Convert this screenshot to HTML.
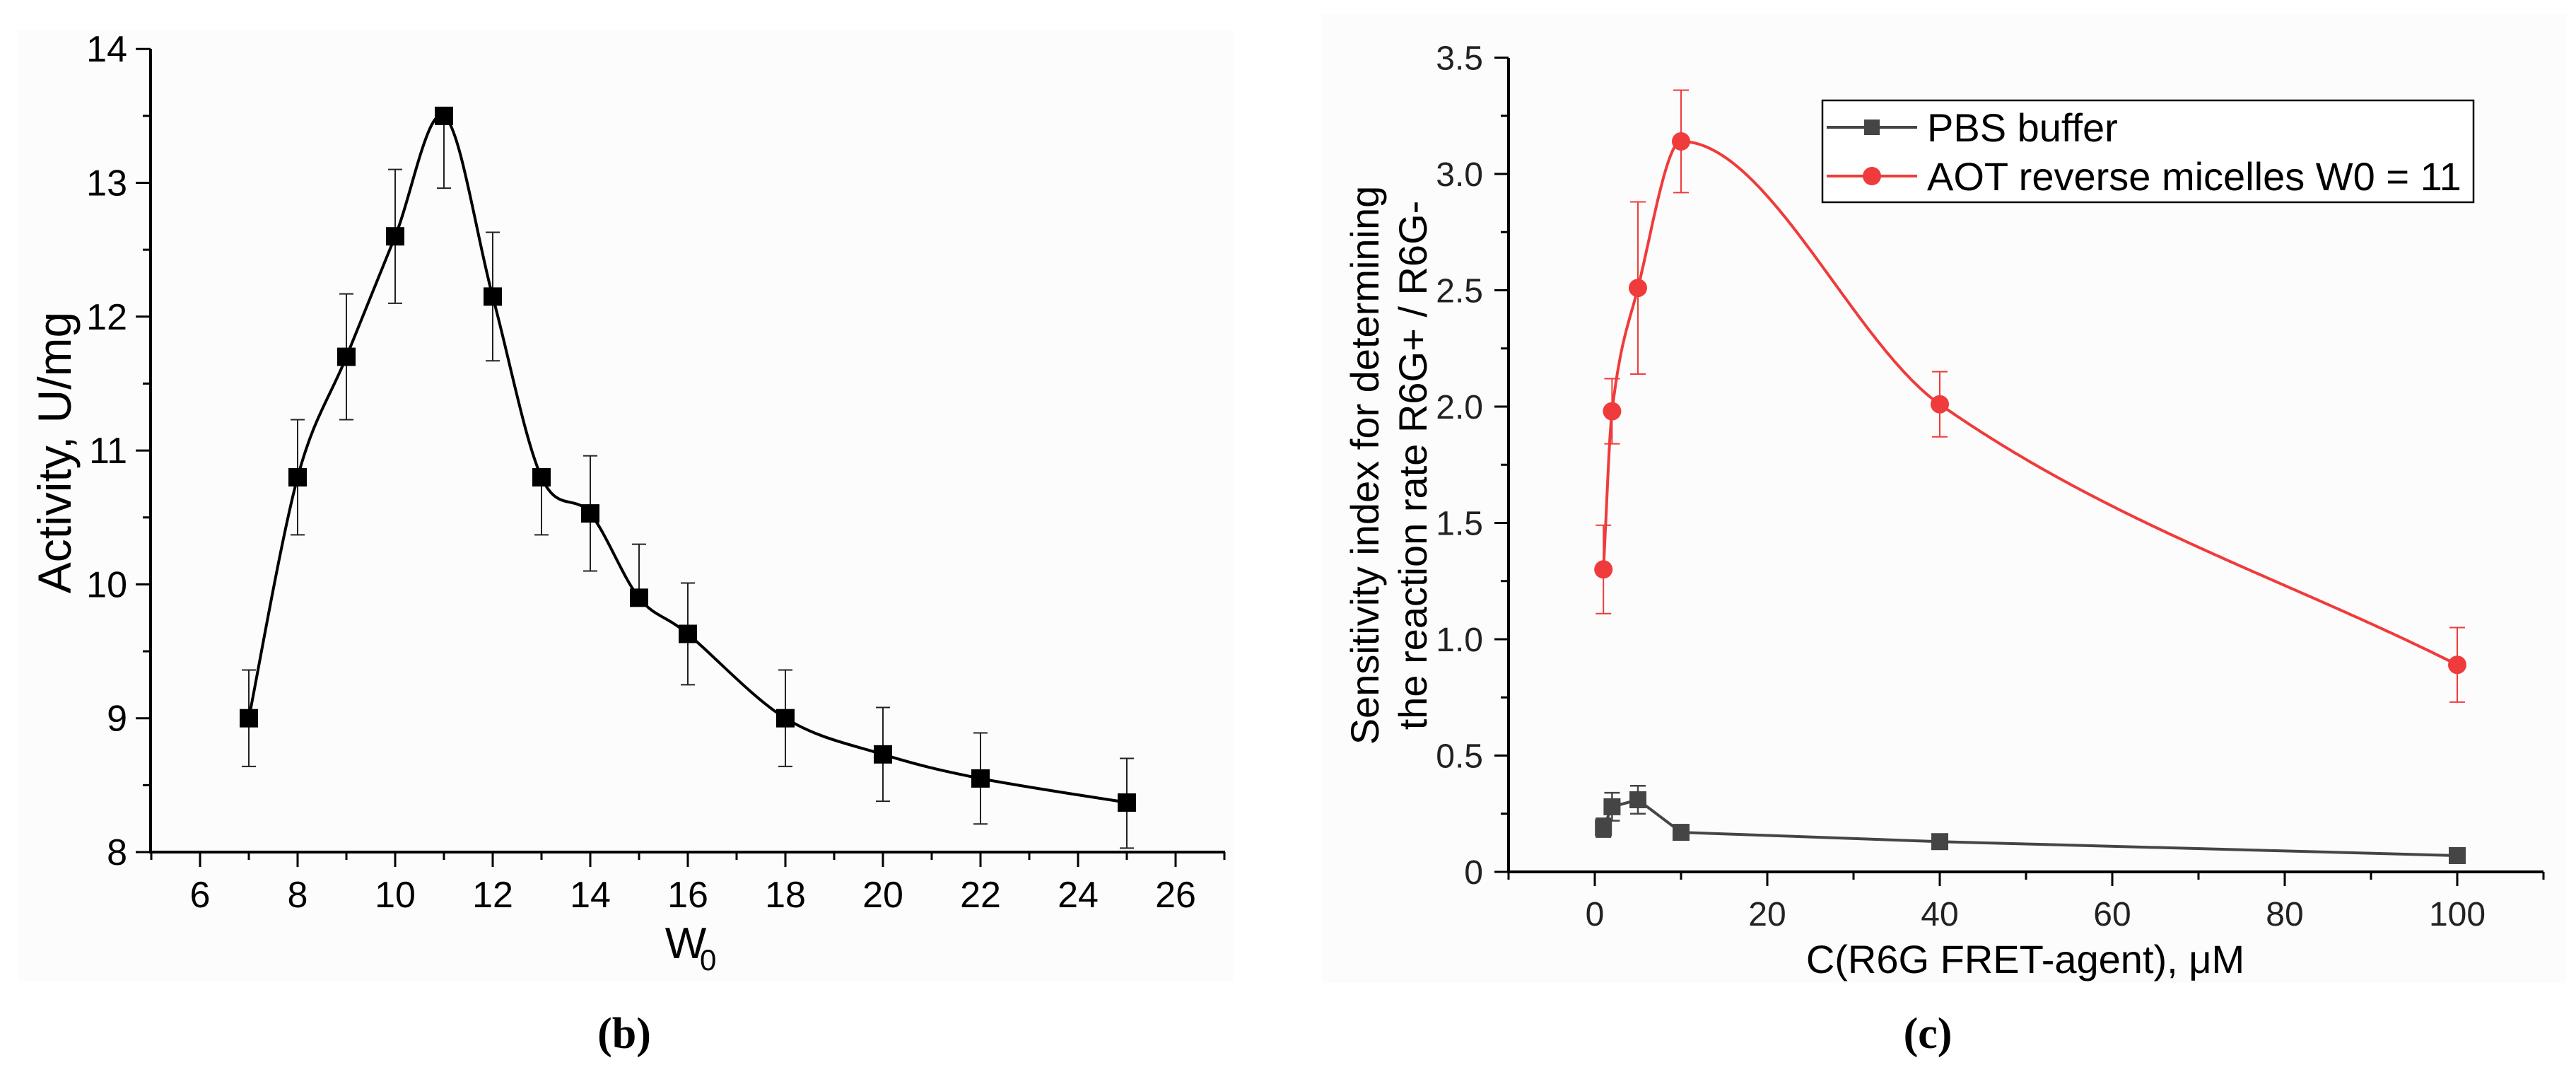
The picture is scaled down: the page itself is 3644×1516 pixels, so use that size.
<!DOCTYPE html>
<html><head><meta charset="utf-8">
<style>
html,body{margin:0;padding:0;background:#fff;}
svg{display:block;font-family:"Liberation Sans",Arial,sans-serif;}
</style></head>
<body>
<svg id="fig" width="3644" height="1516" viewBox="0 0 3644 1516" xmlns="http://www.w3.org/2000/svg">
<rect x="25" y="42" width="1720" height="1345" fill="#fdfcfc"/>
<rect x="1870" y="20" width="1760" height="1370" fill="#fdfcfc"/>
<g id="pb"></g>
<g id="pc"></g>
<text x="883" y="1482" text-anchor="middle" font-family="Liberation Serif,serif" font-weight="bold" font-size="62">(b)</text>
<text x="2727" y="1482" text-anchor="middle" font-family="Liberation Serif,serif" font-weight="bold" font-size="62">(c)</text>
</svg>
<script>
// ---- Panel (b) data ----
const bW0 = [7,8,9,10,11,12,13,14,15,16,18,20,22,25];
const bActivity = [9.0,10.8,11.7,12.6,13.5,12.15,10.8,10.53,9.9,9.63,9.0,8.73,8.55,8.37];
const bErrLow = [8.64,10.37,11.23,12.1,12.96,11.67,10.37,10.1,9.9,9.25,8.64,8.38,8.21,8.03];
const bErrHigh = [9.36,11.23,12.17,13.1,13.5,12.63,10.8,10.96,10.3,10.01,9.36,9.08,8.89,8.7];
const bXTicks = [6,8,10,12,14,16,18,20,22,24,26];
const bYTicks = [8,9,10,11,12,13,14];
// ---- Panel (c) data ----
const cConc = [1,2,5,10,40,100];
const cPBS = [0.19,0.28,0.31,0.17,0.13,0.07];
const cPBSErr = [0.04,0.06,0.06,0.02,0.02,0.01];
const cAOT = [1.3,1.98,2.51,3.14,2.01,0.89];
const cAOTErr = [0.19,0.14,0.37,0.22,0.14,0.16];
const cXTicks = [0,20,40,60,80,100];
const cYTicks = [0,0.5,1.0,1.5,2.0,2.5,3.0,3.5];
const cYTickLabels = ["0","0.5","1.0","1.5","2.0","2.5","3.0","3.5"];

const NS="http://www.w3.org/2000/svg";
function mk(parent, tag, attrs, text){
  const e=document.createElementNS(NS,tag);
  for(const k in attrs) e.setAttribute(k,attrs[k]);
  if(text!==undefined) e.textContent=text;
  parent.appendChild(e); return e;
}
function smooth(pts,k){
  k=k||6;
  let d="M"+pts[0][0]+","+pts[0][1];
  for(let i=0;i<pts.length-1;i++){
    const p0=pts[i-1]||pts[i], p1=pts[i], p2=pts[i+1], p3=pts[i+2]||p2;
    const c1=[p1[0]+(p2[0]-p0[0])/k, p1[1]+(p2[1]-p0[1])/k];
    const c2=[p2[0]-(p3[0]-p1[0])/k, p2[1]-(p3[1]-p1[1])/k];
    d+=" C"+c1[0]+","+c1[1]+" "+c2[0]+","+c2[1]+" "+p2[0]+","+p2[1];
  }
  return d;
}
// PCHIP monotone cubic y(x) sampled -> path
function pchipPath(xs,ys,X,Y){
  const n=xs.length,h=[],dl=[],m=[];
  for(let i=0;i<n-1;i++){h.push(xs[i+1]-xs[i]);dl.push((ys[i+1]-ys[i])/h[i]);}
  m[0]=dl[0]; m[n-1]=dl[n-2];
  for(let i=1;i<n-1;i++){
    if(dl[i-1]*dl[i]<=0){m[i]=0;continue;}
    const w1=2*h[i]+h[i-1], w2=h[i]+2*h[i-1];
    m[i]=(w1+w2)/(w1/dl[i-1]+w2/dl[i]);
  }
  let p="";
  for(let j=0;j<n-1;j++){
    const steps=Math.max(20,Math.round(h[j]*3));
    for(let s=(j===0?0:1);s<=steps;s++){
      const t=s/steps, t2=t*t, t3=t2*t;
      const yv=(2*t3-3*t2+1)*ys[j]+(t3-2*t2+t)*h[j]*m[j]+(-2*t3+3*t2)*ys[j+1]+(t3-t2)*h[j]*m[j+1];
      p+=(p?" L":"M")+X(xs[j]+t*h[j]).toFixed(1)+","+Y(yv).toFixed(1);
    }
  }
  return p;
}

// ===== Panel b =====
(function(){
  const g=document.getElementById('pb');
  const X=v=>283+(v-6)*69;
  const Y=v=>1205-(v-8)*189.3;
  const x0=213, x1=1733, yb=1205, yt=69;
  let e;
  for(let v=8;v<=14.001;v+=0.5){
    const major=Math.abs(v-Math.round(v))<1e-6;
    e=mk(g,'line',{x1:x0-(major?21:11),x2:x0,y1:Y(v),y2:Y(v),stroke:'#000','stroke-width':3});
    
    
  }
  bYTicks.forEach(v=>{
    e=mk(g,'text',{x:180,y:Y(v)+18,'text-anchor':'end','font-size':52,fill:'#000'},String(v));
    
    
  });
  for(let v=5;v<=27;v+=1){
    const major=v%2===0;
    e=mk(g,'line',{x1:X(v),x2:X(v),y1:yb,y2:yb+(major?21:11),stroke:'#000','stroke-width':3});
    
    
  }
  bXTicks.forEach(v=>{
    e=mk(g,'text',{x:X(v),y:1283,'text-anchor':'middle','font-size':52,fill:'#000'},String(v));
    
    
  });
  e=mk(g,'line',{x1:x0,x2:x0,y1:yt,y2:yb+2,stroke:'#000','stroke-width':4});
  
  
  e=mk(g,'line',{x1:x0-2,x2:x1,y1:yb,y2:yb,stroke:'#000','stroke-width':4});
  
  
  e=mk(g,'text',{x:0,y:0,transform:'translate(100,640) rotate(-90)','text-anchor':'middle','font-size':66,fill:'#000'},'Activity, U/mg');
  
  
  e=mk(g,'text',{x:970,y:1355,'text-anchor':'middle','font-size':62,fill:'#000'},'W');
  
  
  mk(g,'text',{x:990,y:1372,'font-size':42,fill:'#000'},'0');
  bW0.forEach((w,i)=>{
    const cx=X(w);
    e=mk(g,'line',{x1:cx,x2:cx,y1:Y(bErrHigh[i]),y2:Y(bErrLow[i]),stroke:'#222','stroke-width':2});
    
    
    [bErrHigh[i],bErrLow[i]].forEach(v=>{
      mk(g,'line',{x1:cx-10,x2:cx+10,y1:Y(v),y2:Y(v),stroke:'#222','stroke-width':2});
    });
  });
  e=mk(g,'path',{d:smooth(bW0.map((w,i)=>[X(w),Y(bActivity[i])])),fill:'none',stroke:'#000','stroke-width':4});
  
  
  bW0.forEach((w,i)=>{
    e=mk(g,'rect',{x:X(w)-13,y:Y(bActivity[i])-13,width:26,height:26,fill:'#000'});
    
    
  });
})();

// ===== Panel c =====
(function(){
  const g=document.getElementById('pc');
  const X=v=>2256+v*12.2;
  const Y=v=>1233-v*329;
  const x0=2134, x1=3598, yb=1233, yt=82;
  const red='#ef3b3b', grey='#454545';
  let e;
  for(let v=0;v<=3.501;v+=0.25){
    const major=Math.abs(v*2-Math.round(v*2))<1e-6;
    e=mk(g,'line',{x1:x0-(major?20:11),x2:x0,y1:Y(v),y2:Y(v),stroke:'#000','stroke-width':3});
    
    
  }
  cYTicks.forEach((v,i)=>{
    e=mk(g,'text',{x:2098,y:Y(v)+17,'text-anchor':'end','font-size':48,fill:'#222'},cYTickLabels[i]);
    
    
  });
  for(let v=-10;v<=110;v+=10){
    const major=v%20===0;
    e=mk(g,'line',{x1:X(v),x2:X(v),y1:yb,y2:yb+(major?20:11),stroke:'#000','stroke-width':3});
    
    
  }
  cXTicks.forEach(v=>{
    e=mk(g,'text',{x:X(v),y:1309,'text-anchor':'middle','font-size':48,fill:'#222'},String(v));
    
    
  });
  e=mk(g,'line',{x1:x0,x2:x0,y1:yt,y2:yb+2,stroke:'#000','stroke-width':4});
  
  
  e=mk(g,'line',{x1:x0-2,x2:x1,y1:yb,y2:yb,stroke:'#000','stroke-width':4});
  
  
  e=mk(g,'text',{x:0,y:0,transform:'translate(1950,658) rotate(-90)','text-anchor':'middle','font-size':56,fill:'#000'},'Sensitivity index for determining');
  
  
  e=mk(g,'text',{x:0,y:0,transform:'translate(2018,658) rotate(-90)','text-anchor':'middle','font-size':56,fill:'#000'},'the reaction rate R6G+ / R6G-');
  
  
  e=mk(g,'text',{x:2865,y:1376,'text-anchor':'middle','font-size':56,fill:'#000'},'C(R6G FRET-agent), μM');
  
  
  cConc.forEach((c,i)=>{
    const cx=X(c);
    e=mk(g,'line',{x1:cx,x2:cx,y1:Y(cPBS[i]+cPBSErr[i]),y2:Y(cPBS[i]-cPBSErr[i]),stroke:grey,'stroke-width':2.5});
    
    
    mk(g,'line',{x1:cx-11,x2:cx+11,y1:Y(cPBS[i]+cPBSErr[i]),y2:Y(cPBS[i]+cPBSErr[i]),stroke:grey,'stroke-width':2.5});
    mk(g,'line',{x1:cx-11,x2:cx+11,y1:Y(cPBS[i]-cPBSErr[i]),y2:Y(cPBS[i]-cPBSErr[i]),stroke:grey,'stroke-width':2.5});
  });
  e=mk(g,'polyline',{points:cConc.map((c,i)=>X(c)+','+Y(cPBS[i])).join(' '),fill:'none',stroke:grey,'stroke-width':4});
  
  
  cConc.forEach((c,i)=>{
    e=mk(g,'rect',{x:X(c)-12,y:Y(cPBS[i])-12,width:24,height:24,fill:grey});
    
    
  });
  cConc.forEach((c,i)=>{
    const cx=X(c);
    e=mk(g,'line',{x1:cx,x2:cx,y1:Y(cAOT[i]+cAOTErr[i]),y2:Y(cAOT[i]-cAOTErr[i]),stroke:red,'stroke-width':2});
    
    
    mk(g,'line',{x1:cx-11,x2:cx+11,y1:Y(cAOT[i]+cAOTErr[i]),y2:Y(cAOT[i]+cAOTErr[i]),stroke:red,'stroke-width':2});
    mk(g,'line',{x1:cx-11,x2:cx+11,y1:Y(cAOT[i]-cAOTErr[i]),y2:Y(cAOT[i]-cAOTErr[i]),stroke:red,'stroke-width':2});
  });
  e=mk(g,'path',{d:pchipPath(cConc,cAOT,X,Y),fill:'none',stroke:red,'stroke-width':4,'stroke-linejoin':'round'});
  
  
  cConc.forEach((c,i)=>{
    e=mk(g,'circle',{cx:X(c),cy:Y(cAOT[i]),r:13,fill:red});
    
    
  });
  const lg=mk(g,'g',{});
  
  
  mk(lg,'rect',{x:2578,y:142,width:921,height:144,fill:'#fff',stroke:'#000','stroke-width':2.5});
  mk(lg,'line',{x1:2584,x2:2712,y1:180,y2:180,stroke:grey,'stroke-width':4});
  mk(lg,'rect',{x:2637,y:169,width:22,height:22,fill:grey});
  e=mk(lg,'text',{x:2726,y:200,'font-size':56,fill:'#000'},'PBS buffer');
  
  
  mk(lg,'line',{x1:2584,x2:2712,y1:249,y2:249,stroke:red,'stroke-width':4});
  mk(lg,'circle',{cx:2648,cy:249,r:13,fill:red});
  e=mk(lg,'text',{x:2726,y:269,'font-size':56,fill:'#000'},'AOT reverse micelles W0 = 11');
  
  
})();
</script>
</body></html>
